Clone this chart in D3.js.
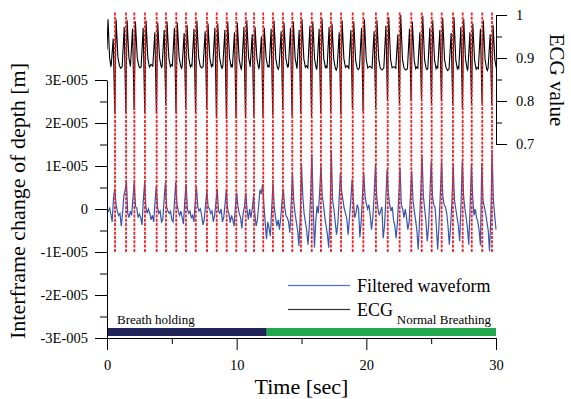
<!DOCTYPE html>
<html>
<head>
<meta charset="utf-8">
<script src="https://cdn.jsdelivr.net/npm/d3@7"></script>
<style>
  body { margin: 0; background: #fff; }
  svg { display: block; font-family: "Liberation Serif", "Times New Roman", serif; }
</style>
</head>
<body>
<svg id="chart" width="571" height="399"></svg>
<script>
// heart beat times [sec] (red dashed markers, ECG QRS)
const beatTimes = [0.62, 1.47, 2.11, 2.93, 3.83, 4.55, 5.34, 6.09, 6.85, 7.71,
  8.46, 9.23, 9.97, 10.70, 11.34, 12.05, 12.80, 13.57, 14.29, 14.96,
  15.79, 16.50, 17.27, 18.05, 18.95, 19.77, 20.74, 21.65, 22.57, 23.47,
  24.27, 25.04, 25.81, 26.68, 27.43, 28.13, 28.94, 29.69];

// ECG per beat: pre-peak, S trough, R peak, baseline, quiet level after beat
const ecgPre = [0.945, 0.972, 0.968, 0.970, 0.960, 0.965, 0.970, 0.958, 0.968, 0.962,
  0.970, 0.965, 0.960, 0.972, 0.955, 0.950, 0.968, 0.962, 0.970, 0.965,
  0.975, 0.968, 0.972, 0.960, 0.965, 0.970, 0.962, 0.975, 0.955, 0.968,
  0.960, 0.970, 0.965, 0.958, 0.972, 0.960, 0.968, 0.955];
const ecgS = [0.770, 0.772, 0.779, 0.772, 0.772, 0.790, 0.772, 0.784, 0.770, 0.780,
  0.760, 0.758, 0.760, 0.760, 0.765, 0.762, 0.767, 0.779, 0.765, 0.770,
  0.765, 0.770, 0.775, 0.768, 0.780, 0.775, 0.785, 0.800, 0.795, 0.800,
  0.805, 0.795, 0.800, 0.790, 0.784, 0.795, 0.795, 0.790];
const ecgR = [0.990, 0.988, 0.985, 0.987, 0.982, 0.985, 0.982, 0.977, 0.987, 0.980,
  0.980, 0.985, 0.982, 0.988, 0.972, 0.970, 0.987, 0.982, 0.985, 0.990,
  0.985, 0.992, 0.980, 0.988, 0.985, 0.990, 0.988, 0.995, 1.000, 0.984,
  0.998, 0.988, 0.993, 0.995, 0.990, 0.980, 0.988, 0.977];
const ecgBase = [0.882, 0.880, 0.882, 0.879, 0.881, 0.880, 0.882, 0.879, 0.881, 0.880,
  0.882, 0.880, 0.878, 0.881, 0.879, 0.880, 0.878, 0.880, 0.879, 0.878,
  0.877, 0.878, 0.876, 0.878, 0.876, 0.877, 0.876, 0.877, 0.876, 0.875,
  0.876, 0.875, 0.877, 0.875, 0.876, 0.874, 0.875, 0.876];
const ecgMid = [0.876, 0.884, 0.877, 0.885, 0.878, 0.884, 0.876, 0.883, 0.877, 0.884,
  0.876, 0.883, 0.874, 0.884, 0.876, 0.882, 0.874, 0.883, 0.875, 0.882,
  0.873, 0.881, 0.872, 0.882, 0.873, 0.881, 0.872, 0.880, 0.872, 0.879,
  0.873, 0.880, 0.871, 0.879, 0.872, 0.878, 0.871];
// ECG before the first marker (partial beat)
const ecgLeadT = [0, 0.08, 0.20, 0.30];
const ecgLeadV = [0.920, 0.990, 0.900, 0.881];

// filtered waveform, one value every 0.1 sec from 0 to 30 sec [x 1E-005 m]
const filteredStep = 0.1;
const filtered = [
  0.0, -0.05, 0.02, -0.12, -0.3, 0.25, 0.47, 0.1, -0.05, -0.15,
  -0.1, -0.4, -0.1, 0.3, 0.45, 0.63, -0.1, -0.2, -0.05, -0.15,
  0.25, 0.61, 0.05, 0.02, -0.2, -0.12, -0.2, -0.37, 0.2, 0.61,
  0.05, -0.1, 0.0, -0.1, -0.25, -0.15, -0.3, 0.15, 0.53, 0.05,
  -0.1, -0.05, -0.3, -0.25, 0.2, 0.61, 0.05, -0.05, -0.1, -0.05,
  -0.25, -0.3, 0.15, 0.62, 0.1, -0.05, -0.15, -0.05, -0.2, -0.35,
  0.2, 0.58, 0.0, -0.1, -0.05, -0.2, -0.15, -0.3, 0.15, 0.52,
  0.05, -0.05, 0.0, -0.15, -0.37, -0.25, 0.1, 0.43, 0.05, 0.0,
  -0.1, -0.05, -0.3, -0.15, 0.15, 0.47, -0.05, -0.1, 0.0, -0.3,
  -0.2, 0.1, 0.46, 0.0, -0.1, -0.32, -0.15, -0.25, -0.4, 0.05,
  0.38, 0.05, -0.1, -0.2, -0.45, -0.1, 0.05, 0.38, 0.0, -0.25,
  0.0, -0.2, 0.0, 0.3, -0.1, -0.4, -0.25, 0.1, 0.45, 0.35,
  0.58, 0.1, -0.3, -0.7, -0.3, -0.45, -0.63, 0.0, 0.61, 0.05,
  -0.2, -0.4, -0.25, -0.48, -0.2, 0.2, 0.47, 0.05, -0.15, -0.2,
  -0.3, -0.55, 0.1, 0.83, 0.2, -0.1, -0.3, -0.5, -0.86, -0.2,
  1.03, 0.3, -0.1, -0.3, -0.5, -0.83, -0.4, 0.3, 1.27, 0.1,
  -0.9, -0.3, 0.07, -0.1, 0.4, 1.01, 0.3, 0.1, -0.2, -0.4,
  -0.6, -0.9, -0.1, 1.34, 0.2, 0.0, -0.3, -0.6, -0.35, 0.2,
  0.84, 0.4, 0.2, 0.0, -0.1, -0.25, -0.6, -0.2, 0.2, 0.69,
  0.2, -0.2, -0.1, 0.1, 0.0, -0.66, -0.3, 0.3, 0.84, 0.3,
  0.12, 0.0, 0.1, -0.15, -0.48, -0.2, 0.3, 1.03, 0.3, 0.0,
  -0.15, -0.05, 0.05, -0.68, -0.4, 0.2, 0.92, 0.35, 0.1, -0.05,
  0.05, -0.26, -0.4, -0.68, -0.3, 0.3, 0.96, 0.1, 0.0, -0.2,
  0.0, -0.2, -0.48, -0.3, 0.3, 0.88, 0.2, -0.05, -0.26, -0.5,
  -0.94, -0.3, 0.4, 1.24, 0.3, 0.0, -0.3, -0.75, -0.4, 0.3,
  1.11, 0.3, 0.1, 0.03, -0.4, -0.94, -0.4, 0.3, 1.11, 0.3,
  0.1, 0.05, -0.1, -0.4, -0.83, -0.4, 0.2, 1.0, 0.2, 0.0,
  -0.2, -0.4, -0.75, 0.1, 1.11, 0.3, 0.0, -0.2, -0.45, -0.83,
  0.0, 1.03, 0.3, -0.15, 0.0, -0.2, -0.3, -0.5, -0.85, 1.07,
  0.2, 0.05, -0.1, -0.3, -0.5, -0.98, -0.2, 1.31, 0.2, -0.15,
  -0.48];

// phases shown as bars above the time axis
const phaseNames = ["Breath holding", "Normal Breathing"];
const phaseStart = [0, 12.32];
const phaseEnd = [12.32, 30];

// legend entries
const legendNames = ["Filtered waveform", "ECG"];

// ticks
const depthTicks = [-3e-5, -2e-5, -1e-5, 0, 1e-5, 2e-5, 3e-5];
const depthTickLabels = ["-3E-005", "-2E-005", "-1E-005", "0", "1E-005", "2E-005", "3E-005"];
const depthMinor = [-2.5e-5, -1.5e-5, -0.5e-5, 0.5e-5, 1.5e-5, 2.5e-5];
const ecgTicks = [0.7, 0.8, 0.9, 1.0];
const ecgTickLabels = ["0.7", "0.8", "0.9", "1"];
const ecgMinor = [0.75, 0.85, 0.95];
const timeTicks = [0, 10, 20, 30];
const timeMinor = [5, 15, 25];

const svg = d3.select("#chart");
const font = "'Liberation Serif', 'Times New Roman', serif";
const blue = "#3656ad";

var x = d3.scaleLinear().domain([0, 30]).range([107, 496]);
var yDepth = d3.scaleLinear().domain([-3e-5, 3e-5]).range([338, 80]);
var yEcg = d3.scaleLinear().domain([0.7, 1.0]).range([144, 15]);

svg.append("defs").append("clipPath").attr("id", "plot")
  .append("rect").attr("x", 107).attr("y", 0).attr("width", 390).attr("height", 345);

// filtered waveform (left scale)
var blueLine = d3.line()
  .x(function (d, i) { return x(i * filteredStep); })
  .y(function (d) { return yDepth(d * 1e-5); });
svg.append("path")
  .datum(filtered)
  .attr("clip-path", "url(#plot)")
  .attr("fill", "none")
  .attr("stroke", blue)
  .attr("stroke-width", 1.2)
  .attr("d", blueLine);

// ECG (right scale)
var ecgPts = ecgLeadT.map(function (t, i) { return [t, ecgLeadV[i]]; });
beatTimes.forEach(function (tr, i) {
  ecgPts.push([tr - 0.30, ecgBase[i]], [tr - 0.14, ecgPre[i]], [tr - 0.02, ecgS[i]],
    [tr + 0.08, ecgR[i]], [tr + 0.22, ecgBase[i] + 0.02], [tr + 0.34, ecgBase[i]]);
  if (i < beatTimes.length - 1) {
    ecgPts.push([(tr + 0.34 + beatTimes[i + 1] - 0.30) / 2, ecgMid[i]]);
  }
});
var ecgLine = d3.line()
  .x(function (d) { return x(d[0]); })
  .y(function (d) { return yEcg(d[1]); });
svg.append("path")
  .datum(ecgPts)
  .attr("clip-path", "url(#plot)")
  .attr("fill", "none")
  .attr("stroke", "#000")
  .attr("stroke-width", 1.1)
  .attr("d", ecgLine);

// beat markers
svg.append("g").selectAll("line")
  .data(beatTimes)
  .join("line")
  .attr("x1", function (d) { return x(d); })
  .attr("x2", function (d) { return x(d); })
  .attr("y1", yEcg(1.006))
  .attr("y2", yDepth(-1e-5))
  .attr("stroke", "#ee1f26")
  .attr("stroke-width", 1.8)
  .attr("stroke-dasharray", "3,1.3");

// phase bars
var phaseColors = ["#1f2459", "#22a84c"];
svg.append("g").selectAll("rect")
  .data(phaseNames)
  .join("rect")
  .attr("x", function (d, i) { return x(phaseStart[i]); })
  .attr("width", function (d, i) { return x(phaseEnd[i]) - x(phaseStart[i]); })
  .attr("y", 328)
  .attr("height", 8)
  .attr("fill", function (d, i) { return phaseColors[i]; });
svg.append("text").attr("x", x(phaseStart[0]) + 10).attr("y", 324)
  .attr("font-size", 13).attr("font-family", font).text(phaseNames[0]);
svg.append("text").attr("x", x(phaseEnd[1]) - 5).attr("y", 324)
  .attr("text-anchor", "end").attr("font-size", 13).attr("font-family", font).text(phaseNames[1]);

// axes
function styleAxis(g) {
  g.attr("font-family", font).attr("font-size", 14.5);
  g.selectAll("text").attr("fill", "#000");
  g.selectAll("line, path").attr("stroke", "#000");
}
function dropDomain(g) { g.select(".domain").remove(); }

svg.append("g").attr("transform", "translate(107,0)")
  .call(d3.axisLeft(yDepth).tickValues(depthTicks)
    .tickFormat(function (d, i) { return depthTickLabels[i]; })
    .tickSize(12).tickSizeOuter(0).tickPadding(7))
  .call(styleAxis);
svg.append("g").attr("transform", "translate(107,0)")
  .call(d3.axisLeft(yDepth).tickValues(depthMinor).tickFormat("").tickSize(7))
  .call(dropDomain).call(styleAxis);

svg.append("g").attr("transform", "translate(496,0)")
  .call(d3.axisRight(yEcg).tickValues(ecgTicks)
    .tickFormat(function (d, i) { return ecgTickLabels[i]; })
    .tickSize(11).tickSizeOuter(0).tickPadding(9))
  .call(styleAxis);
svg.append("g").attr("transform", "translate(496,0)")
  .call(d3.axisRight(yEcg).tickValues(ecgMinor).tickFormat("").tickSize(6))
  .call(dropDomain).call(styleAxis);

svg.append("g").attr("transform", "translate(0,338)")
  .call(d3.axisBottom(x).tickValues(timeTicks).tickSize(12).tickSizeOuter(0).tickPadding(10))
  .call(styleAxis);
svg.append("g").attr("transform", "translate(0,338)")
  .call(d3.axisBottom(x).tickValues(timeMinor).tickFormat("").tickSize(6))
  .call(dropDomain).call(styleAxis);

// axis titles
svg.append("text")
  .attr("transform", "translate(25,201) rotate(-90)")
  .attr("text-anchor", "middle").attr("font-size", 22).attr("font-family", font)
  .text("Interframe change of depth [m]");
svg.append("text")
  .attr("transform", "translate(550,80) rotate(90)")
  .attr("text-anchor", "middle").attr("font-size", 21).attr("font-family", font)
  .text("ECG value");
svg.append("text")
  .attr("x", 301.5).attr("y", 394)
  .attr("text-anchor", "middle").attr("font-size", 22).attr("font-family", font)
  .text("Time [sec]");

// legend
var legendColors = ["#4a70d0", "#333333"];
var legend = svg.append("g").attr("class", "legend");
legendNames.forEach(function (name, i) {
  var yy = 285.5 + i * 24;
  legend.append("rect")
    .attr("x", 288).attr("y", yy - 0.6)
    .attr("width", 62).attr("height", 1.2)
    .style("fill", legendColors[i]);
  legend.append("text")
    .attr("x", 357).attr("y", yy + 6.5)
    .attr("font-size", 18).attr("font-family", font)
    .text(name);
});
</script>
</body>
</html>
